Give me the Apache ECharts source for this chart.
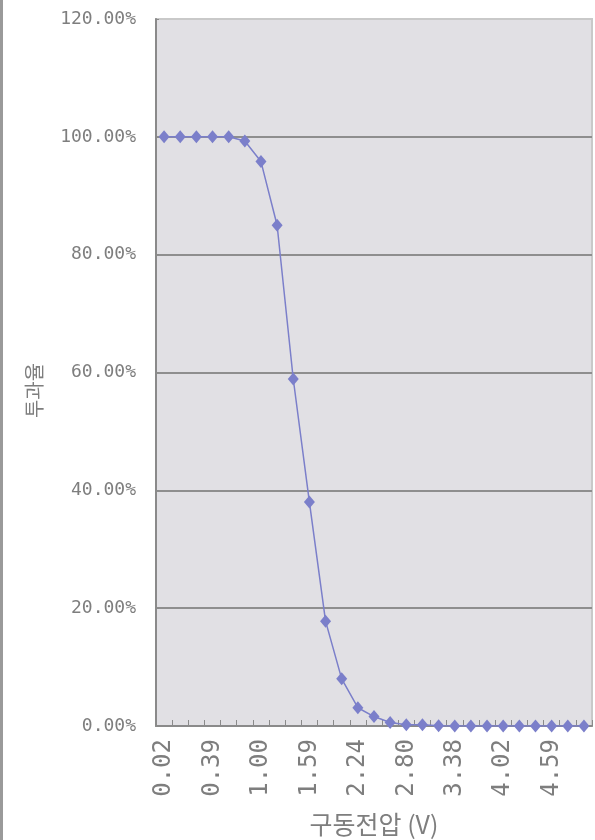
<!DOCTYPE html>
<html>
<head>
<meta charset="utf-8">
<script src="https://cdn.jsdelivr.net/npm/echarts@6/dist/echarts.min.js"></script>
<style>
  html, body { margin: 0; padding: 0; background: #ffffff; }
  #frame { position: relative; width: 595px; height: 840px; }
  #edge { position: absolute; left: 0; top: 0; width: 3px; height: 840px; background: #9a9a9a; }
  #chart { position: absolute; left: 0; top: 0; width: 595px; height: 840px; }
</style>
</head>
<body>
<div id="frame">
  <div id="chart"></div>
  <div id="edge"></div>
</div>
<script>
// Drive voltage (V) for each measurement
const voltages = [
  '0.02', '0.14', '0.27', '0.39', '0.59', '0.80', '1.00', '1.20', '1.40',
  '1.59', '1.81', '2.02', '2.24', '2.43', '2.61', '2.80', '2.99', '3.19',
  '3.38', '3.59', '3.81', '4.02', '4.21', '4.40', '4.59', '4.80', '5.00'
];

// Transmittance (%) at each voltage
const transmittance = [
  100, 100, 100, 100, 100, 99.3, 95.8, 85.0, 58.9,
  38.0, 17.8, 8.0, 3.1, 1.6, 0.6, 0.2, 0.2, 0.05,
  0, 0, 0, 0, 0, 0, 0, 0, 0
];

// Percent ticks on the value axis
const yTicks = { min: 0, max: 120, step: 20 };

const textColor = '#7e7e7e';
const monoFont = 'DejaVu Sans Mono';
const krFont = 'Noto Sans CJK KR';
const gridColor = '#8e8e8e';
const axisColor = '#8a8a8a';

const chart = echarts.init(document.getElementById('chart'), null, { renderer: 'canvas' });

chart.setOption({
  animation: false,
  backgroundColor: '#ffffff',
  grid: {
    left: 156, right: 3, top: 19, bottom: 114,
    outerBoundsMode: 'none',
    containLabel: false,
    show: true,
    backgroundColor: '#e1e0e4',
    borderColor: '#c9c9c9',
    borderWidth: 2
  },
  xAxis: {
    type: 'category',
    data: voltages,
    boundaryGap: true,
    name: '구동전압 (V)',
    nameLocation: 'middle',
    nameGap: 86,
    nameTextStyle: { fontFamily: krFont, fontSize: 25, color: textColor },
    axisLine: { lineStyle: { color: axisColor, width: 2 } },
    axisTick: { show: true, inside: true, interval: 0, length: 6, lineStyle: { color: axisColor, width: 1 } },
    axisLabel: {
      interval: 2,
      rotate: 90,
      margin: 13,
      fontFamily: monoFont,
      fontSize: 24,
      color: textColor
    },
    splitLine: { show: false }
  },
  yAxis: {
    type: 'value',
    min: yTicks.min,
    max: yTicks.max,
    interval: yTicks.step,
    name: '투과율',
    nameLocation: 'middle',
    nameGap: 112,
    nameTextStyle: { fontFamily: krFont, fontSize: 20, color: textColor, padding: [0, 36, 0, 0] },
    axisLine: { show: true, lineStyle: { color: axisColor, width: 2 } },
    axisTick: { show: true, inside: true, length: 3, lineStyle: { color: axisColor } },
    axisLabel: {
      margin: 20,
      fontFamily: monoFont,
      fontSize: 18,
      color: textColor,
      formatter: v => v.toFixed(2) + '%'
    },
    splitLine: {
      show: true,
      lineStyle: {
        width: 2,
        color: [gridColor, gridColor, gridColor, gridColor, gridColor, gridColor, '#c9c9c9']
      }
    }
  },
  series: [{
    type: 'line',
    data: transmittance,
    showAllSymbol: true,
    symbol: 'diamond',
    symbolSize: [11, 13],
    itemStyle: { color: '#7b7fca' },
    lineStyle: { color: '#7b7fca', width: 1.5 },
    z: 5
  }]
});
</script>
</body>
</html>
